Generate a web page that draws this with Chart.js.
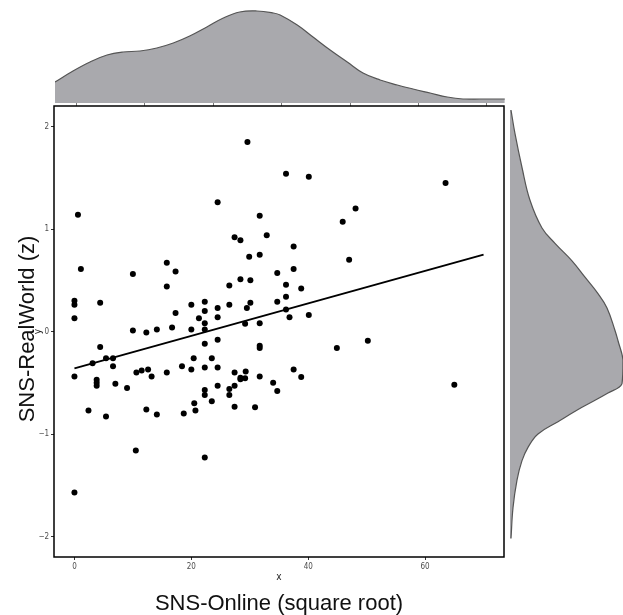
<!DOCTYPE html>
<html>
<head>
<meta charset="utf-8">
<script src="https://cdn.jsdelivr.net/npm/chart.js@4.4.1/dist/chart.umd.min.js"></script>
<style>
body{margin:0;background:#fff;width:623px;height:615px;overflow:hidden;position:relative;font-family:"Liberation Sans",Arial,sans-serif}
canvas{position:absolute;left:0;top:0}
.lab{position:absolute;font-size:22px;line-height:24px;height:24px;color:#111;white-space:nowrap;text-align:center}
</style>
</head>
<body>
<canvas id="topChart" width="623" height="106"></canvas>
<canvas id="rightChart" width="623" height="615"></canvas>
<canvas id="mainChart" width="623" height="615"></canvas>
<div class="lab" id="xlab" style="left:0;top:591px;width:558px">SNS-Online (square root)</div>
<div class="lab" id="ylab" style="left:-123px;top:317px;width:300px;transform:rotate(-90deg)">SNS-RealWorld (z)</div>
<script>
// scatter values
const onlineX = [29.6,24.5,0.6,27.4,28.4,29.9,1.1,10.0,15.8,17.3,28.4,36.2,40.1,63.5,48.1,45.9,31.7,32.9,37.5,31.7,
  47.0,34.7,37.5,30.1,15.8,26.5,0,0,0,4.4,17.3,20.0,22.3,22.3,24.5,26.5,29.5,30.1,21.3,22.3,
  24.5,29.2,10.0,12.3,14.1,16.7,20.0,22.3,22.3,24.5,4.4,3.1,5.4,6.6,6.6,0,3.8,3.8,3.8,7.0,
  9.0,10.6,11.5,12.6,13.2,15.8,18.4,20.4,20.0,22.3,23.5,24.5,27.4,29.3,28.4,28.4,29.2,22.3,22.3,24.5,
  26.5,27.4,26.5,23.5,20.5,20.7,18.7,27.4,12.3,14.1,2.4,5.4,10.5,22.3,36.2,38.8,36.2,34.7,36.2,36.8,
  40.1,31.7,31.7,31.7,44.9,50.2,31.7,37.5,38.8,34.0,34.7,30.9,65.0,0];
const realZ = [1.85,1.26,1.14,0.92,0.89,0.73,0.61,0.56,0.67,0.585,0.51,1.54,1.51,1.45,1.20,1.07,1.13,0.94,0.83,0.75,
  0.70,0.57,0.61,0.50,0.44,0.45,0.30,0.26,0.13,0.28,0.18,0.26,0.29,0.20,0.23,0.26,0.23,0.28,0.13,0.08,
  0.14,0.075,0.01,-0.01,0.02,0.04,0.02,0.02,-0.12,-0.08,-0.15,-0.31,-0.26,-0.26,-0.34,-0.44,-0.47,-0.50,-0.53,-0.51,
  -0.55,-0.40,-0.38,-0.37,-0.44,-0.40,-0.34,-0.26,-0.37,-0.35,-0.26,-0.35,-0.40,-0.39,-0.45,-0.465,-0.455,-0.57,-0.62,-0.53,
  -0.56,-0.53,-0.62,-0.68,-0.70,-0.77,-0.80,-0.735,-0.76,-0.81,-0.77,-0.83,-1.16,-1.23,0.455,0.42,0.34,0.29,0.215,0.14,
  0.16,0.08,-0.14,-0.16,-0.16,-0.09,-0.44,-0.37,-0.445,-0.50,-0.58,-0.74,-0.52,-1.57];

// fitted line ends
const fitX = [0, 70];
const fitY = [-0.36, 0.75];

const xTicks = [0, 20, 40, 60];
const yTicks = [-2, -1, 0, 1, 2];
const yTickLabels = ['\u22122', '\u22121', '0', '1', '2'];

// marginal densities (top: along x, right: along y)
const topDensX = [-3.07,-0.44,2.04,4.53,6.86,9.34,11.8,14.2,16.6,19.1,21.5,23.9,26.4,28.8,29.8,32.3,34.6,37.1,39.6,41.9,44.4,46.9,49.2,51.7,54.2,56.5,59.0,61.5,62.6];
const topDensY = [0.21,0.32,0.41,0.48,0.51,0.52,0.55,0.60,0.67,0.76,0.85,0.91,0.92,0.90,0.88,0.78,0.66,0.53,0.41,0.30,0.23,0.18,0.14,0.10,0.06,0.04,0.04,0.04,0.04];
const topTicks = [0, 10, 20, 30, 40, 50, 60];

const rightDensZ = [2.16,1.93,1.60,1.28,1.01,0.86,0.69,0.53,0.37,0.23,0.01,-0.09,-0.28,-0.51,-0.60,-0.74,-0.88,-1.00,-1.13,-1.26,-1.45,-1.72,-2.02];
const rightDensV = [0.01,0.05,0.12,0.20,0.32,0.45,0.62,0.75,0.88,0.97,1.05,1.08,1.13,1.12,0.98,0.72,0.48,0.28,0.18,0.12,0.07,0.03,0.01];

const tickFont = {family: "'Liberation Sans Narrow','DejaVu Sans Condensed',sans-serif", size: 8};
const densFill = '#a9a9ad';
const densLine = '#555';

const points = onlineX.map((x, i) => ({x: x, y: realZ[i]}));
const fitLine = fitX.map((x, i) => ({x: x, y: fitY[i]}));

const frame = {
  id: 'frame',
  afterDatasetsDraw(chart) {
    const {ctx, chartArea: a} = chart;
    ctx.save();
    ctx.strokeStyle = '#000';
    ctx.lineWidth = 1.5;
    ctx.strokeRect(a.left, a.top, a.right - a.left, a.bottom - a.top);
    ctx.restore();
  }
};

new Chart(document.getElementById('mainChart'), {
  type: 'scatter',
  data: {
    datasets: [
      {data: points, pointRadius: 3, pointBorderWidth: 0, backgroundColor: '#000', borderColor: '#000'},
      {type: 'line', data: fitLine, borderColor: '#000', borderWidth: 2, pointRadius: 0, fill: false}
    ]
  },
  options: {
    responsive: false,
    animation: false,
    layout: {padding: {left: 32, right: 119, top: 106, bottom: 32}},
    plugins: {legend: {display: false}, tooltip: {enabled: false}},
    scales: {
      x: {
        type: 'linear', min: -3.5, max: 73.5,
        afterBuildTicks: s => { s.ticks = xTicks.map(v => ({value: v})); },
        afterFit: s => { s.height = 26; },
        ticks: {font: tickFont, color: '#4d4d4d', padding: 2, maxRotation: 0},
        grid: {drawOnChartArea: false, tickLength: 3, color: '#333'},
        border: {display: false},
        title: {display: true, text: 'x', padding: 0, color: '#222', font: {family: tickFont.family, size: 10}}
      },
      y: {
        type: 'linear', min: -2.2, max: 2.2,
        afterBuildTicks: s => { s.ticks = yTicks.map(v => ({value: v})); },
        afterFit: s => { s.width = 22; },
        ticks: {font: tickFont, color: '#4d4d4d', padding: 2, callback: (v) => yTickLabels[yTicks.indexOf(v)]},
        grid: {drawOnChartArea: false, tickLength: 3, color: '#333'},
        border: {display: false},
        title: {display: true, text: 'y', padding: 0, color: '#222', font: {family: tickFont.family, size: 10}}
      }
    }
  },
  plugins: [frame]
});

new Chart(document.getElementById('topChart'), {
  type: 'line',
  data: {
    datasets: [{
      data: topDensX.map((x, i) => ({x: x, y: topDensY[i]})),
      fill: 'origin', backgroundColor: densFill, borderColor: densLine, borderWidth: 1.2,
      pointRadius: 0, tension: 0.4
    }]
  },
  options: {
    responsive: false,
    animation: false,
    layout: {padding: {left: 55, right: 118, top: 0, bottom: 0}},
    plugins: {legend: {display: false}, tooltip: {enabled: false}},
    scales: {
      x: {
        type: 'linear', min: -3.07, max: 62.63,
        afterBuildTicks: s => { s.ticks = topTicks.map(v => ({value: v})); },
        afterFit: s => { s.height = 3; },
        ticks: {display: false},
        grid: {drawOnChartArea: false, tickLength: 3, color: '#777'},
        border: {display: false}
      },
      y: {type: 'linear', min: 0, max: 1.03, display: false}
    }
  }
});

new Chart(document.getElementById('rightChart'), {
  type: 'line',
  data: {
    datasets: [{
      data: rightDensZ.map((z, i) => ({x: rightDensV[i], y: z})),
      fill: 'origin', backgroundColor: densFill, borderColor: densLine, borderWidth: 1.2,
      pointRadius: 0, tension: 0.4
    }]
  },
  options: {
    indexAxis: 'y',
    responsive: false,
    animation: false,
    layout: {padding: {left: 510, right: 0, top: 106, bottom: 58}},
    plugins: {legend: {display: false}, tooltip: {enabled: false}},
    scales: {
      x: {type: 'linear', min: 0, max: 1.13, display: false},
      y: {type: 'linear', min: -2.2, max: 2.2, display: false}
    }
  }
});
</script>
</body>
</html>
